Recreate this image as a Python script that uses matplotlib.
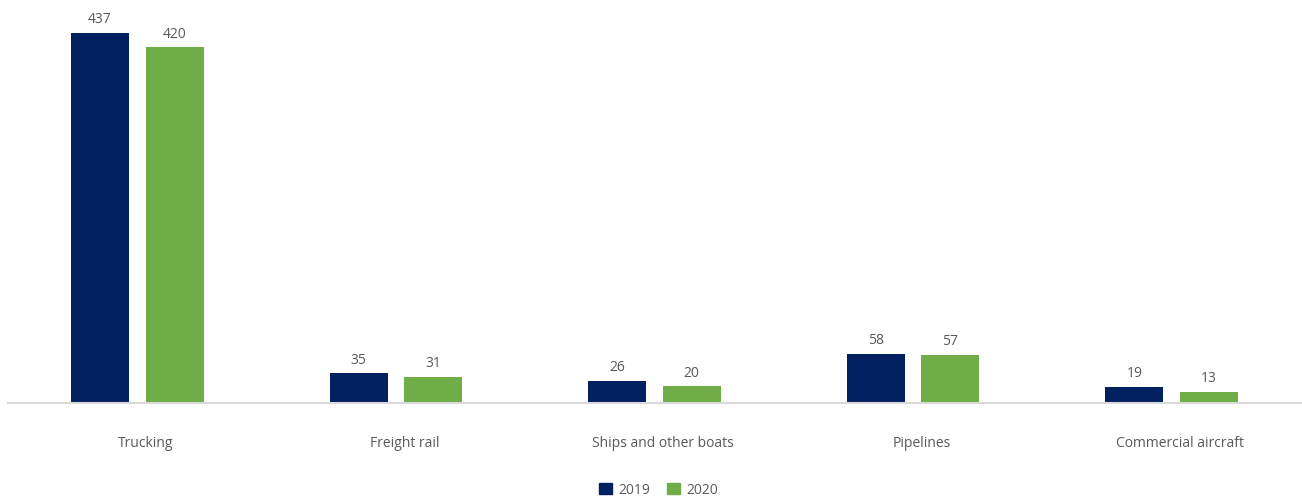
import matplotlib
matplotlib.use('Agg')
import matplotlib.pyplot as plt
import matplotlib.transforms as mtransforms
from matplotlib.patches import Patch
import numpy as np

categories = ['Trucking', 'Freight rail', 'Ships and other boats', 'Pipelines', 'Commercial aircraft']
values_2019 = [437, 35, 26, 58, 19]
values_2020 = [420, 31, 20, 57, 13]
series_labels = ['2019', '2020']

navy = '#002060'
green = '#70AD47'
grey_text = '#595959'

plt.rcParams['font.family'] = ['Open Sans', 'DejaVu Sans']

fig = plt.figure(figsize=(13.02, 5.04), dpi=100)
ax = fig.add_axes([8/1302, 101/504, 1293/1302, 398/504])

x = np.arange(len(categories))
w = 0.224
gap = 0.064
b1 = ax.bar(x - (w + gap)/2, values_2019, w, color=navy)
b2 = ax.bar(x + (w + gap)/2, values_2020, w, color=green)

for bars in (b1, b2):
    for rect in bars:
        ax.annotate(str(int(rect.get_height())),
                    (rect.get_x() + rect.get_width()/2, rect.get_height()),
                    xytext=(0, 4), textcoords='offset points',
                    ha='center', va='bottom', fontsize=10, color=grey_text)

ax.set_xlim(-0.5, len(categories) - 0.5)
ax.set_ylim(0, 470)
ax.set_yticks([])
ax.set_xticks(x)
ax.set_xticklabels(categories, fontsize=10, color=grey_text)
ax.tick_params(axis='x', length=0, pad=24)
offset = mtransforms.ScaledTranslation(8.5/100, 0, fig.dpi_scale_trans)
for lbl in ax.get_xticklabels():
    lbl.set_transform(lbl.get_transform() + offset)

for s in ['top', 'right', 'left']:
    ax.spines[s].set_visible(False)
ax.spines['bottom'].set_color('#D9D9D9')
ax.spines['bottom'].set_linewidth(1.5)

handles = [Patch(color=navy), Patch(color=green)]
fig.legend(handles, series_labels, loc='center', bbox_to_anchor=(659/1302, 1 - 490/504),
           ncol=2, frameon=False, fontsize=10, handlelength=0.9, handleheight=0.9,
           handletextpad=0.5, columnspacing=1.2, labelcolor=grey_text)

fig.savefig('out.png', dpi=100)
